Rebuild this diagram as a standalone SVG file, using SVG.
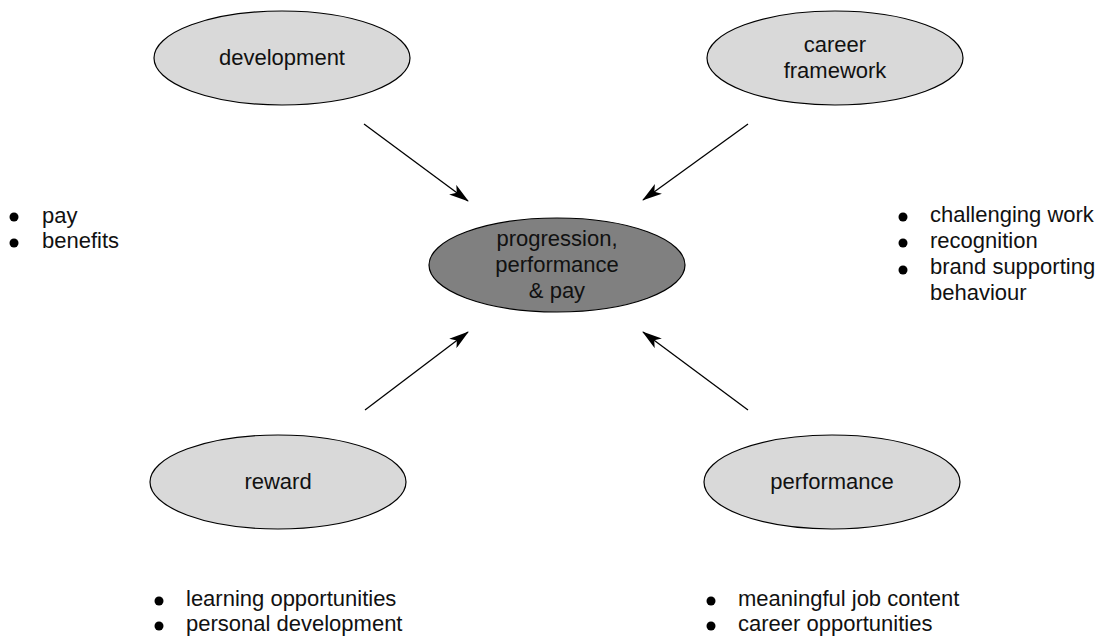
<svg xmlns="http://www.w3.org/2000/svg" width="1105" height="636" viewBox="0 0 1105 636">
<style>
text{font-family:"Liberation Sans",Arial,sans-serif;font-size:22px;fill:#111}
.n{fill:#d9d9d9;stroke:#000;stroke-width:1.2}
.c{fill:#808080;stroke:#000;stroke-width:1.2}
.m{text-anchor:middle}
.e{stroke:#000;stroke-width:1.3;fill:none;marker-end:url(#ah)}
.b{fill:#000}
</style>
<defs>
<marker id="ah" viewBox="0 0 20 12" refX="19" refY="6" markerWidth="20" markerHeight="12" markerUnits="userSpaceOnUse" orient="auto">
<path d="M0,0 L20,6 L0,12 L5,6 Z" fill="#000"/>
</marker>
</defs>
<g id="connectors">
<line class="e" x1="364" y1="124" x2="468" y2="201"/>
<line class="e" x1="748" y1="124" x2="643" y2="200"/>
<line class="e" x1="365" y1="410" x2="468" y2="332"/>
<line class="e" x1="748" y1="410" x2="643" y2="332"/>
</g>
<g id="development">
<ellipse class="n" cx="282" cy="58" rx="128" ry="47"/>
<text class="m" x="282" y="65">development</text>
</g>
<g id="career-framework">
<ellipse class="n" cx="835" cy="58" rx="128" ry="47"/>
<text class="m" x="835" y="52">career</text>
<text class="m" x="835" y="78">framework</text>
</g>
<g id="center">
<ellipse class="c" cx="557" cy="265" rx="128" ry="47"/>
<text class="m" x="557" y="246">progression,</text>
<text class="m" x="557" y="272">performance</text>
<text class="m" x="557" y="298">&amp; pay</text>
</g>
<g id="reward">
<ellipse class="n" cx="278" cy="482" rx="128" ry="47"/>
<text class="m" x="278" y="489">reward</text>
</g>
<g id="performance">
<ellipse class="n" cx="832" cy="482" rx="128" ry="47"/>
<text class="m" x="832" y="489">performance</text>
</g>
<g id="list-left">
<circle class="b" cx="14" cy="217" r="4.5"/>
<circle class="b" cx="14" cy="243" r="4.5"/>
<text x="42" y="223">pay</text>
<text x="42" y="248">benefits</text>
</g>
<g id="list-right">
<circle class="b" cx="903" cy="217" r="4.5"/>
<circle class="b" cx="903" cy="243" r="4.5"/>
<circle class="b" cx="903" cy="270" r="4.5"/>
<text x="930" y="222">challenging work</text>
<text x="930" y="248">recognition</text>
<text x="930" y="274">brand supporting</text>
<text x="930" y="300">behaviour</text>
</g>
<g id="list-bottom-left">
<circle class="b" cx="159" cy="601" r="4.5"/>
<circle class="b" cx="159" cy="626" r="4.5"/>
<text x="186" y="606">learning opportunities</text>
<text x="186" y="631">personal development</text>
</g>
<g id="list-bottom-right">
<circle class="b" cx="711" cy="601" r="4.5"/>
<circle class="b" cx="711" cy="626" r="4.5"/>
<text x="738" y="606">meaningful job content</text>
<text x="738" y="631">career opportunities</text>
</g>
</svg>
